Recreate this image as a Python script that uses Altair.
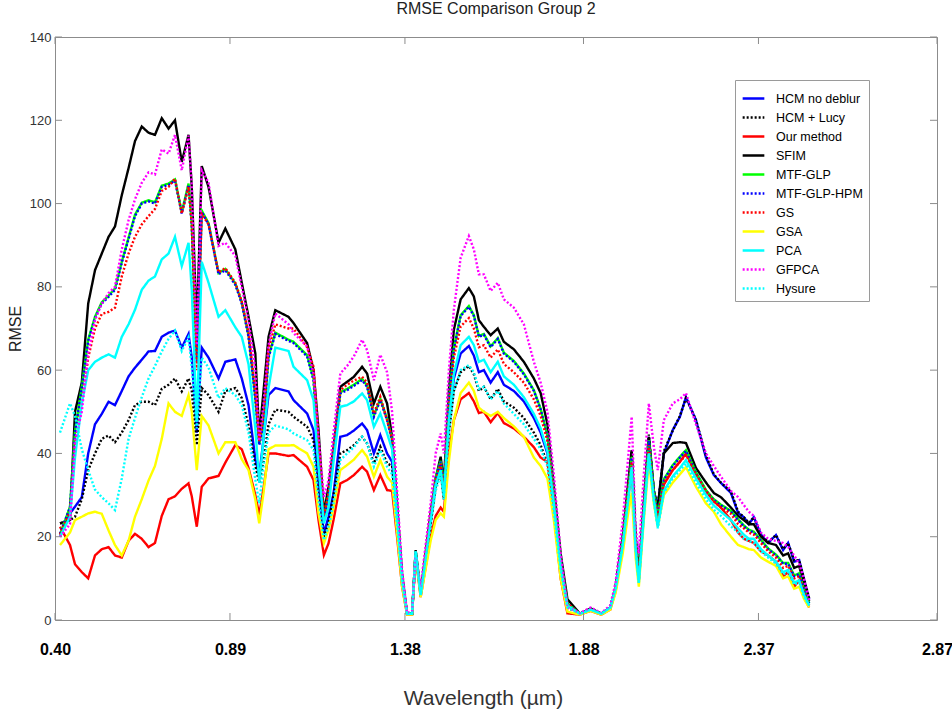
import altair as alt
import pandas as pd

# Wavelength grid (µm)
WL = [0.414, 0.442, 0.456, 0.475, 0.493, 0.512, 0.531, 0.550, 0.568, 0.587,
      0.606, 0.624, 0.643, 0.662, 0.680, 0.699, 0.718, 0.736, 0.755, 0.774,
      0.783, 0.797, 0.811, 0.830, 0.858, 0.877, 0.905, 0.923, 0.942, 0.961,
      0.972, 0.984, 0.998, 1.017, 1.054,
      1.068, 1.106, 1.124, 1.138, 1.153, 1.166, 1.180, 1.199, 1.218, 1.237,
      1.260, 1.274, 1.293, 1.311, 1.330, 1.344, 1.358, 1.372, 1.386, 1.400,
      1.410, 1.424,
      1.452, 1.466, 1.480, 1.489, 1.503, 1.517, 1.536, 1.559, 1.573, 1.587,
      1.601, 1.620, 1.640, 1.657, 1.685, 1.713, 1.741, 1.760, 1.779, 1.797,
      1.816, 1.835,
      1.870, 1.900, 1.930, 1.955, 1.970, 1.990, 2.004, 2.015, 2.026, 2.035,
      2.049, 2.063, 2.077, 2.088, 2.105, 2.130, 2.150, 2.167, 2.195, 2.223,
      2.245, 2.265, 2.293, 2.313, 2.329, 2.343, 2.357, 2.377, 2.397, 2.419,
      2.439, 2.453, 2.470, 2.484, 2.498, 2.512]

HCM_NO_DEBLUR = [20, 25.6, 27.2, 29.5, 40, 47, 49.5, 52.4, 51.6, 55, 58.5, 60.6, 62.5, 64.5, 64.6, 68, 69, 69.5, 65.4, 68.7,
                 63, 45, 65.4, 63, 58, 62, 62.6, 58, 51.6, 38.6, 34.6, 43.5, 54, 55.7, 54.9,
                 52.8, 49.6, 45.6, 32, 20.8, 24.8, 30.4, 44, 44.4, 45.5, 47.2, 45.6, 40, 44.4, 40, 38, 25, 10, 1.5, 1.5, 16, 6,
                 24, 33, 36.5, 30, 48, 58, 64, 65.8, 63.5, 59.5, 60, 57, 59.5, 56.5, 55, 52.5, 48.5, 45, 40, 28, 13, 3.5,
                 1.5, 2.5, 1.5, 3, 8, 20, 31, 40, 20, 10, 28, 44, 31, 27, 40, 45.6, 48.8, 53.5, 48, 39,
                 34.8, 32.9, 30.5, 25.7, 24.7, 23, 24.7, 20.5, 18.5, 20.4, 16.8, 18.5, 14, 14.4, 9.6, 5]
HCM_LUCY = [23.2, 24, 24.8, 29, 36, 40, 43.5, 44.3, 42.7, 45, 48, 51.6, 52.4, 52.4, 51.6, 55.5, 56.5, 58, 54.9, 58,
            55, 42, 55.7, 54, 50, 55, 55.7, 53.3, 46.7, 37, 33, 38, 47, 50.5, 50,
            48.8, 46.4, 43.2, 30.4, 20, 23.2, 30, 40, 40.8, 42, 44, 42.4, 37.6, 41.6, 37.6, 37, 24, 9, 1.5, 1.5, 16, 6,
            23, 32, 35.5, 29, 45, 55, 59.5, 61, 59, 55, 56, 53, 55.5, 52.5, 51, 48.5, 45, 42, 37.5, 26, 12, 3,
            1.5, 2.5, 1.5, 3, 8, 20, 31, 40.5, 20, 10.5, 28, 44.5, 31, 27, 40.5, 45.5, 49, 53.3, 48, 39.5,
            35, 33, 30.8, 26, 24.7, 23.3, 24.7, 20.8, 18.7, 20.4, 17, 18.5, 14.3, 14.4, 9.8, 5.2]
OUR_METHOD = [22.4, 18, 13.4, 11.5, 10, 15.5, 17, 17.5, 15.5, 15, 19, 20.7, 19.5, 17.5, 18.5, 25, 29, 29.7, 31.5, 32.8,
              29.7, 22.4, 32, 34, 34.6, 37.8, 42, 41, 36.5, 30, 25.2, 31.7, 40, 40, 39.4,
              39.6, 36.8, 33.6, 24, 15.6, 18.4, 24, 32.8, 33.6, 34.8, 36.8, 35.6, 31.2, 34.8, 31.2, 31, 20, 8, 1.3, 1.3, 15.5, 5.5,
              20, 25, 27, 26, 40, 48, 53, 54.5, 52.5, 49.7, 50, 47.5, 49.7, 47.3, 46, 44, 41.5, 39, 38, 26, 10, 1.6,
              1.3, 2.2, 1.3, 2.5, 7, 18, 28, 37, 18, 9.5, 26, 41, 30, 24, 32.5, 36, 38, 40, 35, 31,
              28.5, 27, 24, 21, 19.5, 19, 18.5, 16.5, 15.5, 14, 10.5, 11.5, 8, 9.5, 5.5, 3]
SFIM = [23.2, 24, 50, 57, 76, 84, 88, 92, 94.5, 102, 108.5, 115, 118.5, 117, 116.5, 120.5, 118, 120, 110, 116.5,
        104, 70, 109, 104, 90.6, 94, 89, 81, 72.8, 64, 44, 55, 68, 74.4, 72.8,
        71.3, 66.5, 60, 45.6, 25.6, 32, 41.6, 56, 57.2, 58.4, 60.8, 59.2, 52, 56, 52, 44, 28, 10, 1.6, 1.5, 16.8, 6.4,
        26, 34, 39.2, 33, 55, 69.7, 77, 79.7, 77.7, 72, 70.4, 68.4, 70, 66.8, 65, 62, 58, 54.5, 47, 32, 16, 5,
        1.5, 2.8, 1.5, 3, 8, 20, 32, 40.8, 20, 11, 28, 44, 31, 27, 40, 42.5, 42.7, 42.5, 36.5, 33,
        30.5, 29.5, 27, 25, 24, 23, 23, 20, 18.5, 18, 15.5, 16, 12.5, 13, 8.5, 4.5]
MTF_GLP = [20.5, 27.2, 45.3, 56, 67.3, 72.8, 76.3, 77.9, 79.6, 86, 91.8, 97.3, 100.2, 100.8, 100.3, 104.3, 104.8, 105.8, 97.9, 104.8,
           95, 62.5, 98.3, 95.3, 83.3, 84.3, 80.8, 76.3, 68.3, 53.3, 42.3, 47.3, 63.3, 69, 67.3,
           66.8, 63.6, 57.9, 40.3, 24.3, 29.9, 40.3, 54.7, 55.5, 56.5, 57.9, 56.3, 49.1, 53.1, 48.3, 43.3, 27.3, 11.3, 1.5, 1.5, 16.5, 6.5,
           25.2, 34.2, 38.2, 31.7, 52.2, 65.2, 73.2, 75.4, 73.2, 68.2, 68.7, 65.7, 67.7, 64.2, 62.2, 59.2, 55.2, 50.7, 44.2, 30.2, 14.6, 4,
           1.5, 2.5, 1.5, 3, 8, 19.2, 30.2, 39.2, 19.2, 10.2, 27.2, 43.2, 31.2, 25.2, 33.8, 37.2, 39.2, 40.8, 35.5, 31.2,
           29, 27.7, 26.2, 24.2, 22.7, 21.7, 21.2, 19.2, 17.2, 15.7, 13.7, 13.7, 10.7, 11.2, 7.2, 4.1]
MTF_GLP_HPM = [20.7, 27, 45, 55.7, 67, 72.5, 76, 77.6, 79.3, 85.8, 91.5, 97, 100, 100.5, 100, 104, 104.5, 105.5, 97.6, 104.5,
               94.7, 62, 98, 95, 83, 84, 80.5, 76, 68, 53, 42, 47, 63, 68.7, 67,
               66.5, 63.3, 57.6, 40, 24, 29.6, 40, 54.4, 55.2, 56.2, 57.6, 56, 48.8, 52.8, 48, 43, 27, 11, 1.5, 1.5, 16.5, 6.5,
               25, 34, 38, 31.5, 52, 65, 73, 75.2, 73, 68, 68.5, 65.5, 67.5, 64, 62, 59, 55, 50.5, 44, 30, 14.5, 4,
               1.5, 2.5, 1.5, 3, 8, 19, 30, 39, 19, 10, 27, 43, 31, 25, 33.6, 37, 39, 40.6, 35.3, 31,
               28.8, 27.5, 26, 24, 22.5, 21.5, 21, 19, 17, 15.5, 13.5, 13.5, 10.5, 11, 7, 4]
GS = [20.5, 26, 42, 52, 63, 70, 73.5, 74, 75, 82.5, 88, 92, 95, 97, 98.7, 103, 104, 106, 97.6, 104,
      95, 60, 97.5, 95, 83.5, 84.5, 81, 76.5, 69, 55, 43, 48, 65, 71, 70,
      70, 65.5, 60.8, 43, 25, 30.5, 41, 55.2, 56.5, 57.5, 58.4, 57, 49.6, 53.6, 48, 43.5, 27, 11, 1.5, 1.5, 16.5, 6.5,
      25, 33.5, 37.5, 31, 51, 63, 70.5, 72.5, 70, 65.5, 66, 63, 65, 61.5, 59.5, 57, 53, 49, 43, 29.5, 14, 4,
      1.5, 2.5, 1.5, 3, 8, 19, 30, 38, 19, 10, 26, 42, 30, 24.5, 33, 36, 38, 39.6, 35, 31,
      28.5, 27, 25.5, 23, 22, 21, 20.5, 18.5, 16.5, 15, 12.5, 13, 10, 10.5, 6.5, 3.5]
GSA = [18, 21, 24, 24.8, 25.6, 26, 25.5, 21.5, 18, 15.5, 19, 24.8, 29, 33.5, 37, 43.5, 52, 50, 49, 54,
       50, 36, 49, 46.7, 40, 42.7, 42.7, 38.6, 36, 28.9, 23.2, 30.5, 41, 41.9, 41.9,
       42, 40, 36.8, 25.6, 18.4, 21.6, 27, 36, 37.2, 38.5, 40.8, 39.2, 34.4, 38.4, 34.4, 33, 21, 8, 1.3, 1.3, 15.5, 5.5,
       19, 24, 25.6, 24.8, 38, 48, 54.5, 57, 55, 51, 50, 49, 50, 48.5, 46.5, 44, 39, 37, 34, 24, 10, 2,
       1.3, 2.2, 1.3, 2.5, 6.5, 16, 25, 30.5, 15, 8, 24, 38, 28, 22.4, 30, 33, 35, 36.7, 32, 28,
       26, 23, 20, 18, 17.5, 17, 16.8, 15, 14, 13, 10, 10.5, 7.5, 8, 5, 3]
PCA = [20, 24.8, 39, 52, 60, 62, 63, 63.8, 63, 68, 71, 74.5, 79.3, 81.5, 82.5, 86.6, 88, 92, 85, 90.6,
       79.3, 47.6, 86, 81, 72.8, 74.4, 70.3, 68, 61.4, 46, 33, 43.5, 55.7, 65.4, 64.6,
       60.8, 57.6, 52.8, 36.8, 23.2, 27, 38, 51.2, 51.6, 52.5, 54.4, 52.8, 46.4, 49.6, 44.8, 41, 25, 10, 1.5, 1.5, 16.5, 6,
       24, 32.5, 36, 30, 48, 59, 66, 68, 66, 62, 62.5, 59.5, 62, 58.5, 56.5, 53.5, 49.5, 46, 40.5, 28, 13, 3.5,
       1.5, 2.5, 1.5, 3, 7.5, 18, 28, 36.7, 17, 8.9, 25, 40, 29, 22.4, 31, 34.5, 36.5, 38.4, 34, 30,
       27.5, 26, 24, 22, 20.5, 19.5, 19.5, 17, 15.5, 14, 11.5, 12, 9, 9.5, 6, 3.5]
GFPCA = [20, 23, 43, 50, 64, 72, 76, 78.5, 80, 89, 96, 101, 105, 107.5, 107, 113, 112, 116.5, 108, 116.3,
         104.5, 66, 108, 105, 89.8, 90.6, 87.4, 80, 72, 60, 43, 52, 66, 73.6, 71,
         68.9, 65.7, 59.2, 44, 29.6, 33.6, 45, 59.2, 61, 63.3, 67.3, 64.8, 57.6, 63.7, 59.5, 50, 31, 12, 1.7, 2, 15.2, 8,
         28, 40, 44.8, 40, 60, 74.5, 87, 92.2, 89, 83, 83, 79, 81, 77, 75, 71, 62, 57, 50, 35, 16, 3,
         1.7, 3, 1.7, 3.5, 9, 24, 38, 48.8, 22, 16, 35, 52, 41.6, 36, 48, 52, 53, 54.5, 47, 40,
         37, 34.4, 31, 29.5, 27.6, 26, 25, 21, 19.5, 19, 18.5, 17.5, 15.5, 13.5, 9.6, 4.8]
HYSURE = [45, 52, 49, 41, 36, 31.3, 29.5, 28, 26.4, 34, 43.5, 48.5, 53.5, 58, 61, 64.5, 67.5, 69.5, 64.6, 67.9,
          60.6, 46, 63, 60.6, 53.3, 55.7, 54, 51.6, 45, 33.7, 28, 37, 45, 46.7, 45.8,
          44.8, 43.2, 40.8, 28.8, 19.2, 22.4, 28, 38.4, 40, 41.5, 44, 42.4, 36.8, 40.8, 36.8, 35, 23, 9, 1.5, 1.5, 16.5, 6,
          23, 31, 35, 29, 45, 55, 60, 61.2, 59.5, 55.5, 56, 53, 55, 52, 49.5, 47, 43.5, 41, 37, 26, 12, 3,
          1.5, 2.5, 1.5, 3, 7.5, 18, 28, 36, 17, 9, 25, 39.5, 28.5, 22, 30.5, 34, 36, 37.5, 33, 29,
          26.5, 25, 22.5, 21, 19.5, 19, 18.5, 16.5, 15, 13.5, 11, 11.5, 8.5, 9, 5.5, 3.5]

NAMES = ["HCM no deblur", "HCM + Lucy", "Our method", "SFIM", "MTF-GLP", "MTF-GLP-HPM",
         "GS", "GSA", "PCA", "GFPCA", "Hysure"]
VALUES = [HCM_NO_DEBLUR, HCM_LUCY, OUR_METHOD, SFIM, MTF_GLP, MTF_GLP_HPM, GS, GSA, PCA, GFPCA, HYSURE]
COLORS = ["#0000ff", "#000000", "#ff0000", "#000000", "#00ff00", "#0000ff",
          "#ff0000", "#ffff00", "#00ffff", "#ff00ff", "#00ffff"]
DASHES = [[1, 0], [2, 2], [1, 0], [1, 0], [1, 0], [2, 2], [2, 2], [1, 0], [1, 0], [2, 2], [2, 2]]

XTICKS = [0.40, 0.89, 1.38, 1.88, 2.37, 2.87]
YTICKS = [0, 20, 40, 60, 80, 100, 120, 140]

rows = []
for name, vals in zip(NAMES, VALUES):
    for w, v in zip(WL, vals):
        rows.append({"wl": w, "rmse": v, "series": name})
df = pd.DataFrame(rows)

W, H = 882, 583

xscale = alt.Scale(domain=[0.40, 2.87], nice=False, zero=False)
yscale = alt.Scale(domain=[0, 140], nice=False, zero=True)

xaxis = alt.Axis(values=XTICKS, format=".2f", labelFontSize=16, labelFontWeight="bold",
                 labelFont="Liberation Sans", labelColor="#000000", labelPadding=21,
                 ticks=False, tickSize=0, domain=False, grid=False, labelFlush=False,
                 labelOverlap=False, title="Wavelength (µm)", titleFontSize=21,
                 titleFont="Liberation Sans", titleFontWeight="normal", titleColor="#333333",
                 titleX=428, titleY=67, titleBaseline="top", titleAlign="center")
yaxis = alt.Axis(values=YTICKS, labelFontSize=13, labelFont="Liberation Sans", labelColor="#333333",
                 labelPadding=4, ticks=False, tickSize=0, domain=False, grid=False,
                 title="RMSE", titleFontSize=16, titleFont="Liberation Sans",
                 titleFontWeight="normal", titleColor="#222222", titlePadding=6)

leg = alt.Legend(orient="none", legendX=680, legendY=43, title=None, symbolType="stroke",
                 symbolSize=470, symbolStrokeWidth=2.5, labelFontSize=12.5,
                 labelFont="Liberation Sans", labelColor="#000000", padding=6,
                 strokeColor="#9a9a9a", fillColor="#ffffff", rowPadding=0, labelOffset=10,
                 labelLimit=300)

X = alt.X("wl:Q", scale=xscale, axis=xaxis)
Y = alt.Y("rmse:Q", scale=yscale, axis=yaxis)
C = alt.Color("series:N", scale=alt.Scale(domain=NAMES, range=COLORS), legend=leg)
D = alt.StrokeDash("series:N", scale=alt.Scale(domain=NAMES, range=DASHES), legend=leg)

layers = []
for name in NAMES:
    layers.append(
        alt.Chart(df).transform_filter(alt.datum.series == name)
        .mark_line(strokeWidth=2.4, strokeCap="butt")
        .encode(x=X, y=Y, color=C, strokeDash=D)
    )

xt = pd.DataFrame({"wl": XTICKS})
yt = pd.DataFrame({"rmse": YTICKS})
tick_color = "#8c8c8c"
layers.append(alt.Chart(xt).mark_rule(color=tick_color).encode(x=X, y=alt.value(H), y2=alt.value(H - 7)))
layers.append(alt.Chart(xt).mark_rule(color=tick_color).encode(x=X, y=alt.value(0), y2=alt.value(7)))
layers.append(alt.Chart(yt).mark_rule(color=tick_color).encode(y=Y, x=alt.value(0), x2=alt.value(7)))
layers.append(alt.Chart(yt).mark_rule(color=tick_color).encode(y=Y, x=alt.value(W), x2=alt.value(W - 7)))

chart = alt.layer(*layers).properties(
    width=W, height=H,
    padding={"left": 55, "top": 37, "right": 15, "bottom": 98},
    autosize=alt.AutoSizeParams(type="none"),
    title=alt.TitleParams("RMSE Comparison Group 2", fontSize=16, fontWeight="normal",
                          font="Liberation Sans", color="#222222", offset=14,
                          anchor="middle"),
).configure_view(stroke="#8c8c8c", strokeWidth=1)

chart.save("out.html", embed_options={"renderer": "svg", "actions": False})
